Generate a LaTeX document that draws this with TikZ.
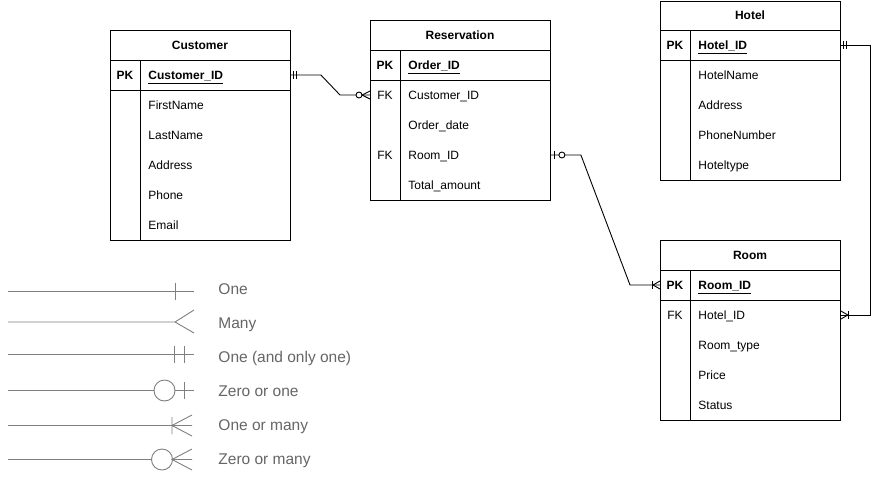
\documentclass[tikz,border=0pt]{standalone}
\usepackage{fontspec}
\setmainfont{Liberation Sans}
\definecolor{legline}{RGB}{128,128,128}
\definecolor{legtext}{RGB}{102,102,102}
% primary key field: bold with an underline just below the baseline
\newcommand\keyfield[1]{\setbox0\hbox{\bfseries #1}\rlap{\rule[-4.6pt]{\wd0}{0.9pt}}\box0}
\begin{document}
\begin{tikzpicture}[x=1pt,y=-1pt,line width=0.9pt,
  tablebox/.style={draw, minimum width=180pt, inner sep=0pt, anchor=north west},
  txt/.style={inner sep=0pt, text height=8.6pt, text depth=0pt, font=\fontsize{12}{14}\selectfont},
  titletext/.style={txt, font=\fontsize{12}{14}\selectfont\bfseries},
  keytext/.style={txt},
  pktext/.style={txt, font=\fontsize{12}{14}\selectfont\bfseries},
  fieldtext/.style={txt, anchor=west},
  legendtext/.style={inner sep=0pt, anchor=west, text height=11.1pt, text depth=0pt,
                     font=\fontsize{15.5}{18}\selectfont, text=legtext},
  legendline/.style={draw=legline, line width=0.9pt},
  % crow's foot end markers: entity edge at the origin, line leaving along +x
  mandone/.pic={\draw (3,-4) -- (3,4) (6,-4) -- (6,4);},
  zeroone/.pic={\draw (4,-4) -- (4,4); \draw[fill=white] (11,0) circle[radius=3];},
  zeromany/.pic={\draw (0,-4) -- (8,0) -- (0,4); \draw[fill=white] (11,0) circle[radius=3];},
  onemany/.pic={\draw (0,-4) -- (7,0) -- (0,4); \draw (8,-4) -- (8,4);},
]
\useasboundingbox (0,0) rectangle (880,477);
\fill[white] (0,0) rectangle (880,477);

% ---------- Customer ----------
\node[tablebox, minimum height=210pt] (cus) at (110,30) {};
\draw (110,60) -- (290,60) (110,90) -- (290,90) (140,60) -- (140,240);
\node[titletext] (cus-t) at (200,45) {Customer};
\node[pktext] (cus-k) at (125,75) {PK};
\node[fieldtext] (cus-pk) at (148,75) {\keyfield{Customer\_ID}};
\node[fieldtext] (cus-f1) at (148,105) {FirstName};
\node[fieldtext] (cus-f2) at (148,135) {LastName};
\node[fieldtext] (cus-f3) at (148,165) {Address};
\node[fieldtext] (cus-f4) at (148,195) {Phone};
\node[fieldtext] (cus-f5) at (148,225) {Email};

% ---------- Reservation ----------
\node[tablebox, minimum height=180pt] (res) at (370,20) {};
\draw (370,50) -- (550,50) (370,80) -- (550,80) (400,50) -- (400,200);
\node[titletext] (res-t) at (460,35) {Reservation};
\node[pktext] (res-k) at (385,65) {PK};
\node[fieldtext] (res-pk) at (408,65) {\keyfield{Order\_ID}};
\node[keytext] (res-k1) at (385,95) {FK};
\node[fieldtext] (res-f1) at (408,95) {Customer\_ID};
\node[fieldtext] (res-f2) at (408,125) {Order\_date};
\node[keytext] (res-k3) at (385,155) {FK};
\node[fieldtext] (res-f3) at (408,155) {Room\_ID};
\node[fieldtext] (res-f4) at (408,185) {Total\_amount};

% ---------- Hotel ----------
\node[tablebox, minimum height=179pt] (hot) at (660,1) {};
\draw (660,30) -- (840,30) (660,60) -- (840,60) (690,30) -- (690,180);
\node[titletext] (hot-t) at (750,15) {Hotel};
\node[pktext] (hot-k) at (675,45) {PK};
\node[fieldtext] (hot-pk) at (698,45) {\keyfield{Hotel\_ID}};
\node[fieldtext] (hot-f1) at (698,75) {HotelName};
\node[fieldtext] (hot-f2) at (698,105) {Address};
\node[fieldtext] (hot-f3) at (698,135) {PhoneNumber};
\node[fieldtext] (hot-f4) at (698,165) {Hoteltype};

% ---------- Room ----------
\node[tablebox, minimum height=180pt] (room) at (660,240) {};
\draw (660,270) -- (840,270) (660,300) -- (840,300) (690,270) -- (690,420);
\node[titletext] (room-t) at (750,255) {Room};
\node[pktext] (room-k) at (675,285) {PK};
\node[fieldtext] (room-pk) at (698,285) {\keyfield{Room\_ID}};
\node[keytext] (room-k1) at (675,315) {FK};
\node[fieldtext] (room-f1) at (698,315) {Hotel\_ID};
\node[fieldtext] (room-f2) at (698,345) {Room\_type};
\node[fieldtext] (room-f3) at (698,375) {Price};
\node[fieldtext] (room-f4) at (698,405) {Status};

% ---------- relationships ----------
\coordinate (e1a) at (cus.east |- cus-pk.west);
\coordinate (e1b) at (res.west |- res-f1.west);
\coordinate (e2a) at (res.east |- res-f3.west);
\coordinate (e2b) at (room.west |- room-pk.west);
\coordinate (e3a) at (hot.east |- hot-pk.west);
\coordinate (e3b) at (room.east |- room-f1.west);

\draw (e1a) -- ++(30,0) -- ([xshift=-30pt]e1b) -- (e1b);
\draw (e2a) -- ++(30,0) -- ([xshift=-30pt]e2b) -- (e2b);
\draw (e3a) -- ++(30,0) |- (e3b);

\pic at (e1a) {mandone};
\pic[xscale=-1] at (e1b) {zeromany};
\pic at (e2a) {zeroone};
\pic[xscale=-1] at (e2b) {onemany};
\pic at (e3a) {mandone};
\pic at (e3b) {onemany};

% ---------- notation key ----------
\begin{scope}[legendline]
  % one
  \draw (8,291.5) -- (194,291.5) (175,283) -- (175,300);
  % many
  \draw (8,322) -- (175,322) (194,310) -- (175,322) -- (194,333);
  % one and only one
  \draw (8,354.5) -- (194,354.5) (174,346) -- (174,363) (184,346) -- (184,363);
  % zero or one
  \draw (8,390.5) -- (154,390.5) (175,390.5) -- (194,390.5) (184,382) -- (184,399);
  \draw (164.5,390.5) circle[radius=10.5];
  % one or many
  \draw (8,425.5) -- (192,425.5) (172,417) -- (172,434) (192,415) -- (172,425.5) -- (192,436);
  % zero or many
  \draw (8,459.5) -- (151.5,459.5) (172.5,459.5) -- (192,459.5) (192,449) -- (172,459.5) -- (192,470);
  \draw (162,459.5) circle[radius=10.5];
\end{scope}
\node[legendtext] (lg1) at (218,289) {One};
\node[legendtext] (lg2) at (218,323) {Many};
\node[legendtext] (lg3) at (218,357) {One (and only one)};
\node[legendtext] (lg4) at (218,391) {Zero or one};
\node[legendtext] (lg5) at (218,425) {One or many};
\node[legendtext] (lg6) at (218,459) {Zero or many};
\end{tikzpicture}
\end{document}
